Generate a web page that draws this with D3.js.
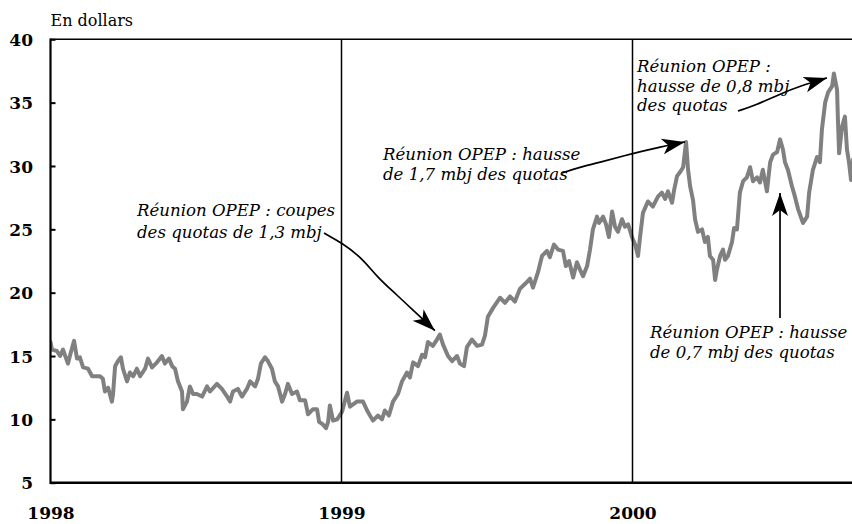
<!DOCTYPE html>
<html><head><meta charset="utf-8">
<script src="https://cdn.jsdelivr.net/npm/d3@7"></script>
<style>body{margin:0;background:#fff}svg{display:block}</style>
</head><body>
<svg id="c" width="852" height="524"></svg>
<script>
// ---- data ----
const time = [
1998.000,1998.005,1998.022,1998.033,1998.043,1998.060,1998.070,1998.081,1998.091,1998.101,
1998.112,1998.129,1998.143,1998.153,1998.170,1998.180,1998.187,1998.198,1998.211,1998.215,
1998.222,1998.232,1998.242,1998.249,1998.263,1998.273,1998.284,1998.297,1998.308,1998.325,
1998.335,1998.349,1998.366,1998.383,1998.393,1998.407,1998.418,1998.428,1998.438,1998.452,
1998.455,1998.469,1998.479,1998.490,1998.503,1998.521,1998.538,1998.548,1998.572,1998.589,
1998.607,1998.617,1998.627,1998.644,1998.658,1998.675,1998.686,1998.703,1998.713,1998.723,
1998.737,1998.747,1998.761,1998.771,1998.782,1998.796,1998.806,1998.816,1998.830,1998.847,
1998.857,1998.875,1998.885,1998.902,1998.916,1998.923,1998.936,1998.947,1998.954,1998.960,
1998.971,1998.985,1999.002,1999.019,1999.029,1999.053,1999.074,1999.088,1999.108,1999.125,
1999.139,1999.149,1999.163,1999.177,1999.194,1999.208,1999.225,1999.235,1999.246,1999.263,
1999.277,1999.287,1999.297,1999.314,1999.328,1999.338,1999.349,1999.366,1999.380,1999.397,
1999.407,1999.421,1999.431,1999.448,1999.466,1999.483,1999.493,1999.503,1999.521,1999.545,
1999.562,1999.579,1999.596,1999.613,1999.631,1999.648,1999.658,1999.675,1999.689,1999.706,
1999.716,1999.730,1999.744,1999.761,1999.771,1999.782,1999.796,1999.809,1999.820,1999.830,
1999.844,1999.854,1999.864,1999.878,1999.885,1999.899,1999.909,1999.919,1999.930,1999.940,
1999.950,1999.964,1999.974,1999.985,1999.998,2000.009,2000.019,2000.026,2000.036,2000.053,
2000.070,2000.088,2000.101,2000.112,2000.122,2000.136,2000.143,2000.153,2000.163,2000.174,
2000.184,2000.191,2000.198,2000.208,2000.215,2000.225,2000.239,2000.249,2000.259,2000.266,
2000.277,2000.284,2000.290,2000.301,2000.311,2000.318,2000.328,2000.342,2000.349,2000.359,
2000.369,2000.380,2000.393,2000.404,2000.414,2000.428,2000.438,2000.448,2000.462,2000.473,
2000.483,2000.497,2000.507,2000.517,2000.524,2000.534,2000.548,2000.558,2000.569,2000.586,
2000.600,2000.607,2000.620,2000.634,2000.644,2000.651,2000.662,2000.672,2000.686,2000.692,
2000.703,2000.706,2000.710,2000.720,2000.730,2000.737,2000.744,2000.751,2000.758
];
const price = [
16.1,15.5,15.4,15.0,15.5,14.4,15.3,16.2,14.8,14.9,
14.1,14.0,13.4,13.4,13.4,13.2,12.2,12.5,11.4,12.0,
14.2,14.6,14.9,14.0,13.0,13.7,13.4,14.0,13.4,14.0,
14.8,14.1,14.5,15.0,14.4,14.8,14.2,14.0,13.0,12.2,
10.8,11.4,12.6,12.0,12.0,11.8,12.6,12.2,12.8,12.4,
11.8,11.4,12.2,12.4,11.8,12.4,13.0,12.6,13.2,14.4,
14.9,14.6,14.0,13.0,12.6,11.4,12.0,12.8,12.0,12.2,
11.5,11.5,10.4,10.8,10.8,9.8,9.6,9.3,9.8,11.1,
9.9,10.0,10.6,12.1,11.0,11.4,11.4,10.7,9.9,10.3,
10.0,10.7,10.3,11.4,12.0,13.0,13.7,13.3,14.5,14.2,
15.1,14.9,16.1,15.8,16.3,16.7,15.9,15.0,14.6,15.0,
14.4,14.2,15.7,16.3,15.8,15.9,16.6,18.1,18.8,19.6,
19.2,19.7,19.3,20.3,20.7,21.1,20.4,21.6,22.9,23.3,
22.8,23.8,23.4,23.3,22.1,22.5,21.2,22.4,21.8,21.3,
22.1,23.4,25.0,26.0,25.5,26.0,25.4,24.4,26.4,25.2,
24.8,25.8,25.2,25.4,24.4,23.8,22.9,24.4,26.3,27.2,
26.8,27.6,27.9,27.4,28.0,27.1,28.1,29.2,29.5,29.9,
31.9,29.7,28.4,27.3,25.8,24.8,25.0,24.0,24.4,22.9,
22.6,21.0,21.8,22.9,23.4,22.6,22.9,24.0,25.1,25.0,
27.9,28.8,29.1,29.9,28.8,29.1,28.7,29.7,28.0,30.3,
30.9,31.1,32.1,31.3,30.3,29.7,28.4,27.6,26.6,25.5,
26.0,27.9,29.7,30.7,30.3,32.9,35.0,35.8,36.3,37.3,
36.0,33.6,31.0,33.1,33.9,31.3,30.3,28.9,30.5
];
const yTicks = [5, 10, 15, 20, 25, 30, 35, 40];
const xTicks = [1998, 1999, 2000];
const unitLabel = "En dollars";
const noteTexts = [
  ["Réunion OPEP : coupes", "des quotas de 1,3 mbj"],
  ["Réunion OPEP : hausse", "de 1,7 mbj des quotas"],
  ["Réunion OPEP :", "hausse de 0,8 mbj", "des quotas"],
  ["Réunion OPEP : hausse", "de 0,7 mbj des quotas"]
];
// arrow tip positions in data units (time, price)
const noteTips = [[1999.321, 17.0], [2000.180, 31.9], [2000.668, 36.95], [2000.507, 27.87]];

// ---- layout ----
const W = 852, H = 524;
const x = d3.scaleLinear().domain([1998, 2000]).range([50.5, 632.5]);
const y = d3.scaleLinear().domain([5, 40]).range([482.7, 39.3]);
const noteLayout = [
  {tx: 137, ty: 216, lh: 22, path: [[324,233],[342,243],[362,258],[377,277],[397,295],[416,313]]},
  {tx: 383, ty: 160, lh: 20, path: [[562,173],[580,167],[598,163],[630,154],[660,147]]},
  {tx: 637, ty: 72, lh: 19.5, path: [[738,111],[754,106],[780,94],[800,86]]},
  {tx: 650, ty: 338, lh: 19.5, path: [[780,318],[780,260]]}
];
const serif = "'DejaVu Serif', serif";

const svg = d3.select('#c');
const data = time.map((t, i) => ({t, v: price[i]}));

svg.append('defs').append('clipPath').attr('id', 'plot')
  .append('rect').attr('x', x(1998)).attr('y', y(40)).attr('width', W - x(1998)).attr('height', y(5) - y(40));

// top frame line
svg.append('line').attr('x1', x(1998)).attr('x2', W).attr('y1', y(40)).attr('y2', y(40))
  .attr('stroke', '#000').attr('stroke-width', 1.6);

// price line
svg.append('path').datum(data)
  .attr('clip-path', 'url(#plot)')
  .attr('fill', 'none').attr('stroke', '#808080').attr('stroke-width', 4)
  .attr('stroke-linejoin', 'round').attr('stroke-linecap', 'round')
  .attr('d', d3.line().x(d => x(d.t)).y(d => y(d.v)));

// year separators
svg.selectAll('line.yr').data(xTicks.slice(1)).join('line').attr('class', 'yr')
  .attr('x1', d => x(d)).attr('x2', d => x(d)).attr('y1', y(40)).attr('y2', y(5))
  .attr('stroke', '#000').attr('stroke-width', 1.5);

// y axis
const ya = svg.append('g').attr('transform', `translate(${x(1998)},0)`)
  .call(d3.axisLeft(y).tickValues(yTicks).tickSize(-5).tickPadding(17.5).tickFormat(d3.format('d')));
ya.select('.domain').remove();
ya.selectAll('.tick line').attr('stroke', '#000').attr('stroke-width', 2);
ya.selectAll('.tick text').attr('font-family', serif).attr('font-weight', 'bold')
  .attr('font-size', 17).attr('fill', '#000').attr('dy', '0.36em');
svg.append('line').attr('x1', x(1998)).attr('x2', x(1998)).attr('y1', y(40) - 0.8).attr('y2', y(5) + 1.2)
  .attr('stroke', '#000').attr('stroke-width', 2.2);

// x axis
const xa = svg.append('g').attr('transform', `translate(0,${y(5)})`)
  .call(d3.axisBottom(x).tickValues(xTicks).tickSize(0).tickPadding(24).tickFormat(d3.format('d')));
xa.select('.domain').remove();
xa.selectAll('.tick text').attr('font-family', serif).attr('font-weight', 'bold')
  .attr('font-size', 17).attr('fill', '#000');
svg.append('line').attr('x1', x(1998)).attr('x2', W).attr('y1', y(5)).attr('y2', y(5))
  .attr('stroke', '#000').attr('stroke-width', 2.6);

// unit label
svg.append('text').attr('x', x(1998)).attr('y', 26).attr('font-family', serif)
  .attr('font-size', 16).attr('fill', '#000').text(unitLabel);

// annotations
const curve = d3.line().curve(d3.curveBasis);
noteTexts.forEach((lines, i) => {
  const L = noteLayout[i];
  const tip = [x(noteTips[i][0]), y(noteTips[i][1])];
  const t = svg.append('text').attr('font-family', serif).attr('font-style', 'italic')
    .attr('font-size', 16.6).attr('fill', '#000');
  lines.forEach((s, j) => t.append('tspan').attr('x', L.tx).attr('y', L.ty + j * L.lh).text(s));
  const pts = L.path.concat([tip]);
  svg.append('path').attr('d', curve(pts)).attr('fill', 'none').attr('stroke', '#000').attr('stroke-width', 1.7);
  const p = pts[pts.length - 2];
  const ang = Math.atan2(tip[1] - p[1], tip[0] - p[0]) * 180 / Math.PI;
  svg.append('path').attr('d', 'M0,0 L-23,-8 L-17,0 L-23,8 Z')
    .attr('transform', `translate(${tip[0]},${tip[1]}) rotate(${ang})`).attr('fill', '#000');
});
</script>
</body></html>
